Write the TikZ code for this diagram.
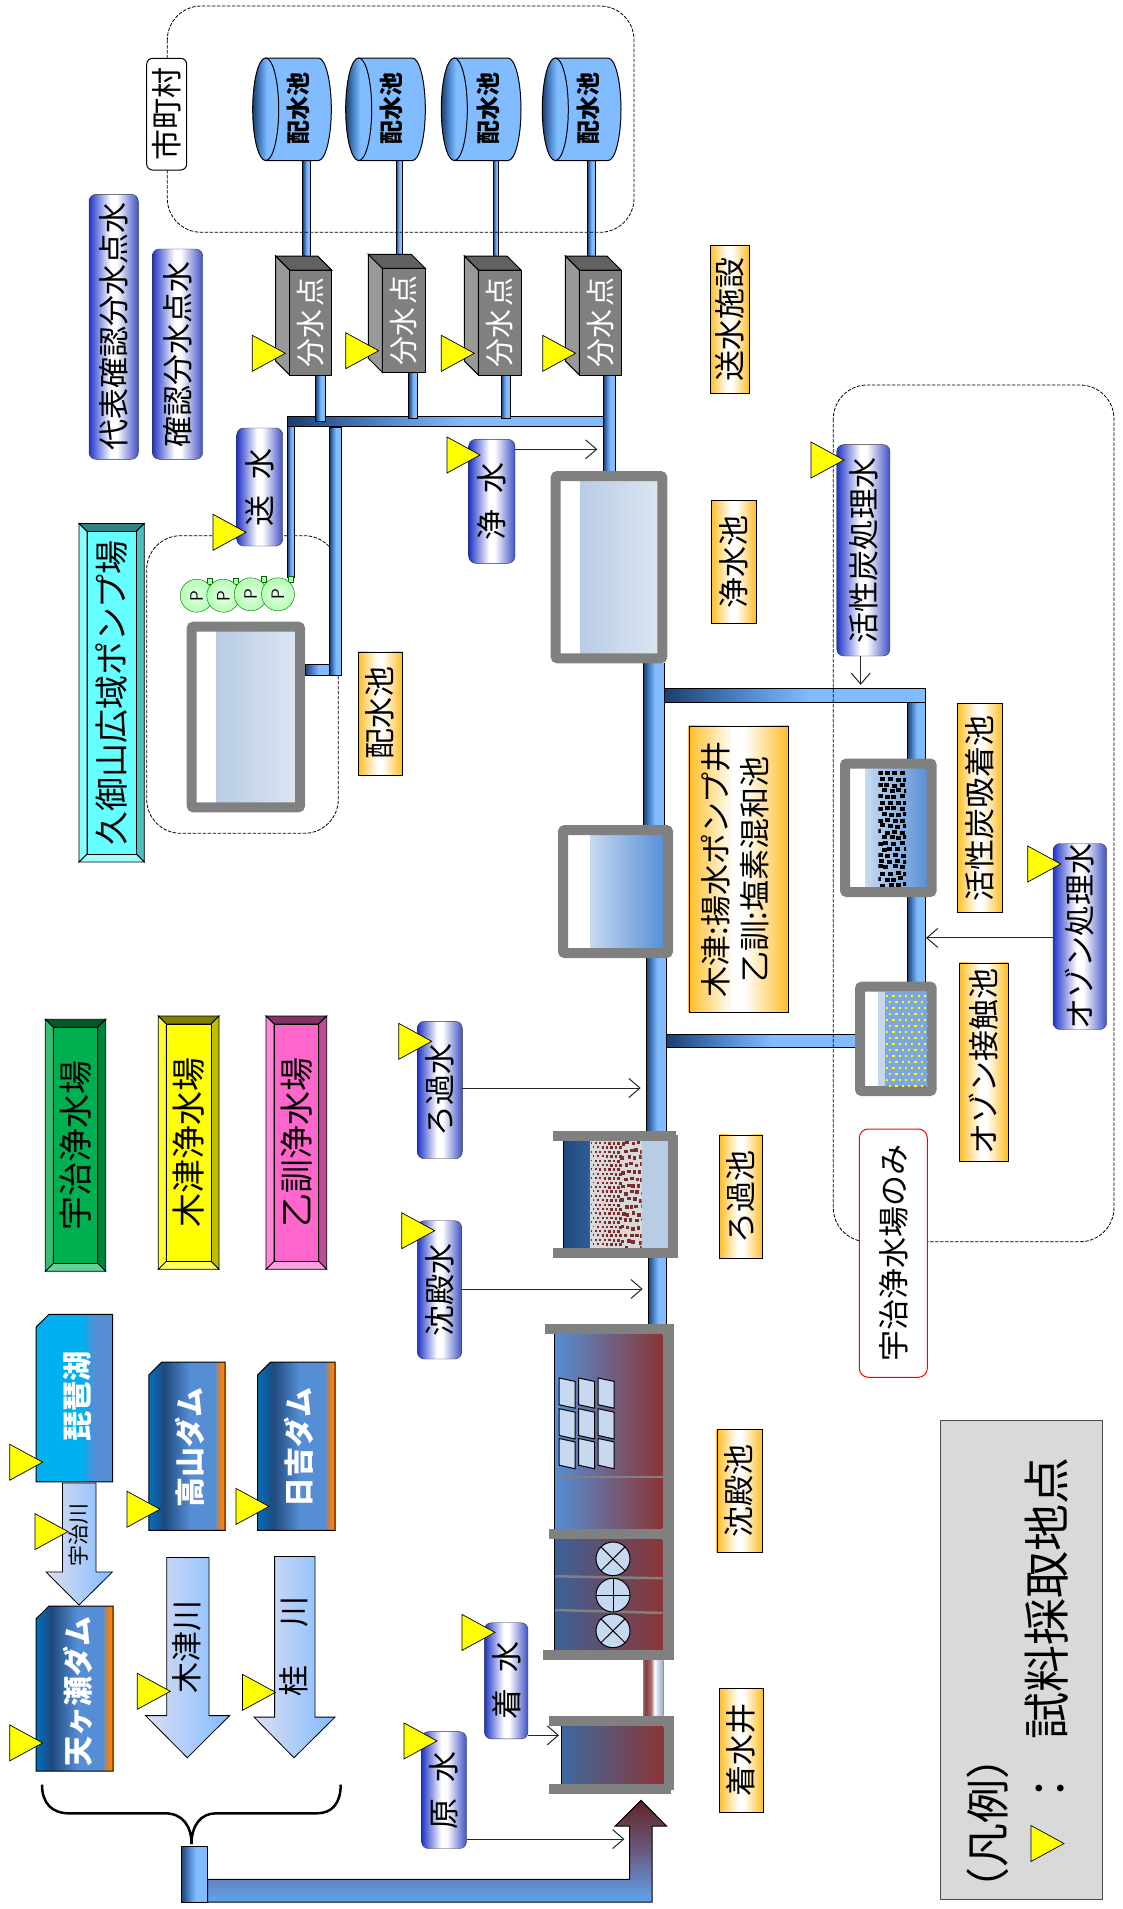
\documentclass[tikz,border=0pt]{standalone}
\usepackage{fontspec}
\setmainfont{Noto Sans CJK JP}
\usetikzlibrary{arrows.meta}
\definecolor{pipeD}{HTML}{1A3E6E}
\definecolor{pipeM}{HTML}{558ED5}
\definecolor{pipeL}{HTML}{80BCFF}
\definecolor{wallg}{HTML}{808080}
\definecolor{pillB}{HTML}{1F35C8}
\definecolor{pillC}{HTML}{3F51C6}
\definecolor{orgE}{HTML}{FFBE28}
\definecolor{damA}{HTML}{0070C0}
\definecolor{damB}{HTML}{1F497D}
\definecolor{damO}{HTML}{FF8000}
\definecolor{biwaC}{HTML}{00B0F0}
\definecolor{bsnA}{HTML}{B8CCE4}
\definecolor{bsnB}{HTML}{DCE6F2}
\definecolor{bsnC}{HTML}{C6D9F1}
\definecolor{darkred}{HTML}{8B3535}
\definecolor{gravel}{HTML}{7B2C2C}
\definecolor{plateU}{HTML}{00B050}
\definecolor{plateK}{HTML}{FFFF00}
\definecolor{plateO}{HTML}{FF66CC}
\definecolor{plateQ}{HTML}{66FFFF}
\definecolor{markY}{HTML}{FFFF00}
\definecolor{riverL}{HTML}{DEDEF2}
\definecolor{sedMid}{HTML}{505C8C}
\definecolor{sedLow}{HTML}{3C6298}
\definecolor{sedLowMid}{HTML}{5A4C70}
\definecolor{wellL}{HTML}{3C6AA0}
\definecolor{wellM}{HTML}{604C70}
\definecolor{inTop}{HTML}{632523}
\definecolor{inMid}{HTML}{6A5A80}
\definecolor{inBot}{HTML}{5FA5F0}
\definecolor{gravelBg}{HTML}{D9D9D9}
\pgfdeclarehorizontalshading{pipeS}{100bp}{color(0bp)=(pipeD); color(25bp)=(pipeD); color(42bp)=(pipeM); color(53bp)=(pipeL); color(100bp)=(pipeL)}
\pgfdeclarehorizontalshading{pillS}{100bp}{color(0bp)=(pillB); color(25bp)=(pillB); color(47bp)=(white); color(53bp)=(white); color(75bp)=(pillC); color(100bp)=(pillC)}
\pgfdeclarehorizontalshading{orgS}{100bp}{color(0bp)=(orgE); color(25bp)=(orgE); color(47bp)=(white); color(53bp)=(white); color(75bp)=(orgE); color(100bp)=(orgE)}
\pgfdeclarehorizontalshading{damS}{100bp}{color(0bp)=(damA); color(25bp)=(damA); color(35bp)=(damB); color(52bp)=(pipeM); color(68bp)=(pipeM); color(73bp)=(damO); color(100bp)=(damO)}
\pgfdeclarehorizontalshading{biwaS}{100bp}{color(0bp)=(biwaC); color(55bp)=(biwaC); color(63bp)=(pipeM); color(100bp)=(pipeM)}
\pgfdeclarehorizontalshading{linkS}{100bp}{color(0bp)=(gray); color(25bp)=(gray); color(31bp)=(darkred); color(45bp)=(darkred!70!white); color(53bp)=(white); color(62bp)=(bsnC); color(72bp)=(bsnA!70!gray); color(75bp)=(gray); color(100bp)=(gray)}
\newcommand\R[1]{\rotatebox{90}{#1}}
\newcommand\Fs[1]{\fontsize{#1}{#1}\selectfont}
\tikzset{
  pill/.style={shade,shading=pillS,draw=black!80,rounded corners=7pt,inner sep=0pt,outer sep=0pt,font=\Fs{31}},
  orglabel/.style={shade,shading=orgS,draw=black,inner sep=0pt,outer sep=0pt,font=\Fs{31}},
  flowarrow/.style={draw=black!85,line width=1pt,-{Straight Barb[length=11pt,width=19pt]}},
  dashedzone/.style={draw=black,line width=.8pt,dash pattern=on 3.5pt off 1.5pt,rounded corners=34pt},
  pipe/.style={shade,shading=pipeS,draw=black,line width=1pt},
  river/.style={shade,left color=riverL,right color=pipeL,draw=black,line width=.8pt},
  wall/.style={fill=wallg},
  marker/.style={fill=markY,draw=black,line width=.7pt},
  pump/.style={circle,draw=green!40!black,inner color=green!10!white,outer color=green!30!white,minimum size=33pt,inner sep=0pt,font=\sffamily\Fs{18}},
  plain/.style={inner sep=0pt,outer sep=0pt},
  zone1/.style={shift={(0,10.375)},yscale=.9917},
}
% name, style, x1,y1,x2,y2, text
\newcommand\Bx[7]{\node[#2,minimum width={(#5-#3)*1pt},minimum height={(#6-#4)*1pt}] (#1) at ({(#3+#5)/2},{(#4+#6)/2}) {#7};}
\newcommand\Tri[2]{\draw[marker] ({#1-33},{#2-18}) -- (#1,#2) -- ({#1-33},{#2+18}) -- cycle;}
\newcommand\Pipe[4]{\path[pipe] (#1,#2) rectangle (#3,#4);}
% basin: x1,y1,x2,y2 outer; split x; left colour; right colour
\newcommand\Basin[7]{%
  \fill[white] (#1,#2) rectangle (#3,#4);
  \path[shade,left color=#6,right color=#7] (#5,{#2+8}) rectangle ({#3-8},{#4-8});
  \draw[wallg,line width=10pt,rounded corners=2pt] ({#1+5},{#2+5}) rectangle ({#3-5},{#4-5});}
% dam: name, shading, x1,y1,x2,y2, y offset
\newcommand\Dam[7]{%
  \path[shade,shading=#2,draw=black,line width=1pt] ({#3+13},#4) -- (#5,#4) -- (#5,#6) -- (#3,#6) -- (#3,{#4+13}) -- cycle;
  \node[plain,text=white,font=\bfseries\Fs{30}] (#1) at ({(#3+#5)/2+3},{(#4+#6)/2+#7}) {\R{#1}};}
% bevel: name,x1,y1,x2,y2,colour,text
\newcommand\Bevel[7]{%
  \draw[fill=#6!50!black,line width=.8pt] (#2,#3) -- (#4,#3) -- ({#4-8},{#3+8}) -- ({#2+8},{#3+8}) -- cycle;
  \draw[fill=#6!75!black,line width=.8pt] (#4,#3) -- (#4,#5) -- ({#4-8},{#5-8}) -- ({#4-8},{#3+8}) -- cycle;
  \draw[fill=#6!60!white,line width=.8pt] (#2,#5) -- (#4,#5) -- ({#4-8},{#5-8}) -- ({#2+8},{#5-8}) -- cycle;
  \draw[fill=#6!80!white,line width=.8pt] (#2,#3) -- (#2,#5) -- ({#2+8},{#5-8}) -- ({#2+8},{#3+8}) -- cycle;
  \node[draw=black,line width=.8pt,fill=#6,inner sep=0pt,outer sep=0pt,minimum width={(#4-#2-16)*1pt},minimum height={(#5-#3-16)*1pt},font=\Fs{34}] (#1) at ({(#2+#4)/2},{(#3+#5)/2}) {\R{#7}};}
% cylinder: name,x1,x2,text x
\newcommand\Cyl[4]{%
  \path[fill=pipeL,draw=black,line width=1pt] ({#2+13},58) -- ({#3-13},58) arc[start angle=-90,end angle=90,x radius=13,y radius=51.3] -- ({#2+13},160.6) -- cycle;
  \path[shade,shading=pipeS,draw=black,line width=1pt] ({#2+13},109.3) ellipse [x radius=13,y radius=51.3];
  \node[plain,font=\bfseries\Fs{24}] (#1) at (#4,108) {\R{配水池}};}
% junction box: name, x1,y1,x2,y2 of front face
\newcommand\Cube[5]{%
  \draw[fill=black!40,line width=1pt] (#2,#3) -- ({#2-14},{#3-14}) -- ({#2-14},{#5-14}) -- (#2,#5) -- cycle;
  \draw[fill=black!62,line width=1pt] (#2,#3) -- ({#2-14},{#3-14}) -- ({#4-14},{#3-14}) -- (#4,#3) -- cycle;
  \node[fill=wallg,draw=black,line width=1pt,text=white,inner sep=0pt,outer sep=0pt,minimum width={(#4-#2)*1pt},minimum height={(#5-#3)*1pt},font=\Fs{29}] (#1) at ({(#2+#4)/2},{(#3+#5)/2}) {\R{分水\hspace{3pt}点}};}
\begin{document}
\begin{tikzpicture}[x=1pt,y=-1pt]
\useasboundingbox (0,0) rectangle (1122,1909);
\fill[white] (0,0) rectangle (1122,1909);

% --- dashed zone behind the pipes (Kumiyama)
\path[dashedzone] (146.7,535.7) rectangle (338.3,833.3);

% --- pipes of the distribution side
\Pipe{302.7}{160}{310.7}{256}
\Pipe{396}{160}{402}{254}
\Pipe{493.3}{160}{498.7}{256}
\Pipe{587.3}{160}{595}{256}
\Pipe{287.3}{426}{294.7}{577}
\Pipe{287.3}{416}{604}{426}
\Pipe{315.7}{375}{325}{421}
\Pipe{408.7}{372}{417.3}{418}
\Pipe{501}{375}{510}{418}
\Pipe{603.3}{375}{615.7}{472}
\Pipe{305}{664.3}{330}{675}
\Pipe{329.3}{427.3}{341.3}{675}

% --- main line
\Pipe{643.3}{660}{664.3}{826}
\Pipe{646}{955}{666.7}{1132}
\Pipe{648}{1257}{666.7}{1326}
\Pipe{664.3}{688.8}{925}{702.2}
\Pipe{907.3}{702}{925}{760}
\Pipe{907.3}{895}{925}{983}
\Pipe{666}{1034}{855}{1047.3}

% --- pumps
\foreach \cx/\cy/\nm in {196.7/595.7/pa,223.3/595.7/pb,250.7/594.3/pc,278/594.3/pd}{
  \draw[fill=green!30!white,draw=green!40!black] ({\cx+10},{\cy-18}) rectangle ({\cx+15},{\cy-12});
  \node[pump] (\nm) at (\cx,\cy) {\R{P}};
}

% --- reservoirs
\Basin{186.7}{621.7}{305}{812.3}{216}{bsnA}{bsnB}
\Basin{550.7}{471}{667.3}{663.3}{580}{bsnA}{bsnB}
\Basin{558}{825}{673}{958}{590}{bsnC}{pipeM}
\Basin{840}{758.5}{936.7}{897}{865.7}{bsnC}{pipeM}
\Basin{855}{981.7}{936.7}{1096}{878}{bsnC}{bsnC}

% activated carbon
\begin{scope}
\clip (878.3,771) rectangle (906,886);
\pgfmathsetseed{11}
\foreach \r in {0,...,19}{
  \foreach \c in {0,...,3}{
    \pgfmathsetmacro\px{877+\c*7.4+mod(\r,2)*3.7+rand*1.6}
    \pgfmathsetmacro\py{771+\r*5.9+rand*1}
    \fill[black] (\px,\py) rectangle ({\px+5},{\py+4});
  }
}
\end{scope}
% ozone dots
\fill[pipeM!65!bsnC] (885,991.7) rectangle (927.3,1086);
\begin{scope}
\clip (885,993) rectangle (927.3,1086);
\foreach \r in {0,...,15}{
  \foreach \c in {0,...,6}{
    \pgfmathsetmacro\px{886+\c*6.3+mod(\r,2)*3.1}
    \pgfmathsetmacro\py{995+\r*6}
    \fill[markY] (\px,\py) rectangle ({\px+2.2},{\py+2.2});
  }
}
\end{scope}

% --- filter basin
\path[shade,left color=damB,right color=damB!70!pipeM] (563.3,1141) rectangle (590,1248.3);
\fill[gravelBg] (590,1141) rectangle (641.7,1248.3);
\fill[bsnA] (641.7,1141) rectangle (668.3,1248.3);
\draw[line width=1pt] (563.3,1141) -- (563.3,1248.3);
\begin{scope}
\clip (590,1141) rectangle (641.7,1248.3);
\pgfmathsetseed{5}
\foreach \r in {0,...,24}{
  \foreach \c in {0,...,6}{
    \pgfmathsetmacro\px{590.5+\c*4.4+mod(\r,2)*2.2}
    \pgfmathsetmacro\py{1142+\r*4.4}
    \pgfmathsetmacro\ss{1.7+\c*.2}
    \fill[gravel] (\px,\py) rectangle ({\px+\ss},{\py+\ss});
  }
}
\foreach \r in {0,...,15}{
  \foreach \c in {0,...,3}{
    \pgfmathsetmacro\px{621+\c*5.6+mod(\r,2)*2.8+rand*1.3}
    \pgfmathsetmacro\py{1142+\r*7+rand*1.3}
    \fill[gravel] (\px,\py) rectangle ({\px+3.6},{\py+3.6});
  }
}
\end{scope}
\fill[wall] (553.3,1130.7) rectangle (676,1141);
\fill[wall] (553.3,1248.3) rectangle (676,1258.3);
\fill[wall] (668.3,1135) rectangle (678.3,1258);

\begin{scope}[zone1]
% --- sedimentation basin
\path[shade,left color=pipeM,middle color=sedMid,right color=darkred] (554.6,1335) rectangle (662.5,1531);
\path[shade,left color=sedLow,middle color=sedLowMid,right color=darkred] (554.6,1541.5) rectangle (662.5,1653.4);
\draw[line width=1pt] (554.6,1335) -- (554.6,1653.4);
\draw[wallg,line width=2.5pt] (554.6,1479) -- (662.5,1479);
\draw[wallg,line width=2.5pt] (555,1579) -- (662.5,1581);
\draw[wallg,line width=2.5pt] (555,1613) -- (662.5,1616);
\foreach \xa in {559,578.5,598}{
  \foreach \ya in {1379,1410,1440}{
    \draw[fill=bsnC,line width=1pt] (\xa,\ya) -- ({\xa+16},{\ya+3.5}) -- ({\xa+16},{\ya+30.5}) -- (\xa,{\ya+27}) -- cycle;
  }
}
\foreach \ym/\ang in {1561.4/45,1598/0,1634/45}{
  \draw[fill=bsnC,line width=1pt] (613,\ym) circle (17);
  \draw[line width=1pt,rotate around={\ang:(613,\ym)}] (596,\ym) -- (630,\ym) (613,{\ym-17}) -- (613,{\ym+17});
}
\fill[wall] (545,1325) rectangle (673.6,1335);
\fill[wall] (548.7,1531) rectangle (673.6,1541.5);
\fill[wall] (543,1653.4) rectangle (673.6,1663.6);
\fill[wall] (662.5,1325) rectangle (673.6,1663.6);

% --- link pipe and receiving well
\path[shade,shading=linkS] (643,1663.6) rectangle (663.5,1719.5);
\path[shade,left color=wellL,middle color=wellM,right color=darkred] (561,1730) rectangle (663.5,1788.6);
\draw[line width=1pt] (561,1730) -- (561,1788.6);
\fill[wall] (548.7,1719.5) rectangle (673.6,1730);
\fill[wall] (548.7,1788.6) rectangle (670.5,1798.7);
\fill[wall] (663.5,1719.5) rectangle (673.6,1795);

% --- big inflow arrow
\path[shade,top color=inTop,bottom color=inBot,middle color=inMid,draw=black,line width=1pt] (207.5,1884.7) -- (629.5,1884.7) -- (629.5,1831) -- (615,1831) -- (641,1805) -- (666.7,1831) -- (652,1831) -- (652,1907.6) -- (207.5,1907.6) -- cycle;
\path[pipe] (181,1851.7) rectangle (207.5,1907.6);
\draw[line width=2.5pt] (42,1789) .. controls (42,1808) and (52,1818) .. (69,1818) -- (165,1818) .. controls (182,1818) and (191.5,1830) .. (191.5,1849) .. controls (191.5,1830) and (201,1818) .. (216,1818) -- (317,1818) .. controls (332,1818) and (340.7,1808) .. (340.7,1789);

% --- rivers and dams
\Dam{琵琶湖}{biwaS}{36}{1314.8}{112.5}{1483.9}{-2}
\Dam{高山ダム}{damS}{148.8}{1363}{225}{1532.6}{1}
\Dam{日吉ダム}{damS}{257.6}{1363}{335}{1532.6}{1}
\Dam{天ヶ瀬ダム}{damS}{36}{1609}{113}{1775.4}{3}
\path[river] (62.4,1485) -- (96,1485) -- (96,1574.6) -- (112.5,1574.6) -- (79,1608) -- (46,1574.6) -- (62.4,1574.6) -- cycle;
\path[river] (166.7,1560) -- (209,1560) -- (209,1719.5) -- (229.6,1719.5) -- (187.3,1762) -- (145.5,1719.5) -- (166.7,1719.5) -- cycle;
\path[river] (274.6,1559) -- (315,1559) -- (315,1721) -- (335,1721) -- (294,1762) -- (254,1721) -- (274.6,1721) -- cycle;
\node[plain,font=\Fs{21}] (ujigawa) at (79,1537) {\R{宇治川}};
\node[plain,font=\Fs{31}] (kizugawa) at (187.3,1650) {\R{木津川}};
\node[plain,font=\Fs{31}] (katsura) at (294,1650) {\R{桂\hspace{38pt}川}};
\end{scope}

% --- cylinders and junction boxes
\Cyl{cylA}{252.7}{331.3}{298.3}
\Cyl{cylB}{345.7}{425.3}{391.7}
\Cyl{cylC}{441.3}{521}{488.3}
\Cyl{cylD}{542.3}{621}{588.3}
\Cube{cubeA}{289.7}{270}{331.7}{375}
\Cube{cubeB}{382.3}{268.3}{425.3}{372.3}
\Cube{cubeC}{478.3}{270}{521}{375}
\Cube{cubeD}{579.3}{270}{621}{375}

% --- dashed zones over the pipes
\path[dashedzone] (167.3,6) rectangle (634,232.3);
\path[dashedzone] (833.3,385) rectangle (1114,1241.7);

% --- plant name plates
\Bevel{ujiP}{45.3}{1019.3}{105.7}{1271.3}{plateU}{宇治浄水場}
\Bevel{kizuP}{158.3}{1016}{219}{1269.3}{plateK}{木津浄水場}
\Bevel{otoP}{266}{1016}{326.7}{1269.3}{plateO}{乙訓浄水場}
\Bevel{kumiP}{79}{523.5}{144.3}{862}{plateQ}{久御山広域ポンプ場}

% --- sampling labels
\Bx{genP}{pill}{421.5}{1731.6}{466.5}{1848.5}{\R{原\hspace{16pt}水}}
\Bx{chakuP}{pill}{484.4}{1622.7}{528}{1738.9}{\R{着\hspace{16pt}水}}
\Bx{chinP}{pill}{417.3}{1220.7}{461.7}{1359}{\R{沈殿水}}
\Bx{roP}{pill}{417.3}{1021.3}{462.3}{1158.7}{\R{ろ過水}}
\Bx{joP}{pill}{468.7}{439.3}{515}{563.3}{\R{浄\hspace{16pt}水}}
\Bx{soP}{pill}{236.7}{428}{282.7}{546}{\R{送\hspace{16pt}水}}
\Bx{kakuP}{pill}{152.3}{249}{202.7}{459.3}{\R{確認分水点水}}
\Bx{daiP}{pill}{89}{194.3}{138.3}{459.3}{\R{代表確認分水点水}}
\Bx{katsuP}{pill}{836.7}{444.6}{890}{656}{\R{活性炭処理水}}
\Bx{ozoP}{pill}{1053}{844}{1106.7}{1029}{\R{オゾン処理水}}

% --- named arrow targets
\coordinate (genT) at (624.4,1839.1);
\coordinate (chakuT) at (559,1735.3);
\coordinate (chinT) at (642.7,1289);
\coordinate (roT) at (640.7,1088);
\coordinate (joT) at (597.3,449.3);
\coordinate (katsuT) at (860.7,684.8);
\coordinate (ozoT) at (926,937.9);
\draw[flowarrow] (genP.east |- genT) -- (genT);
\draw[flowarrow] (chakuP.east |- chakuT) -- (chakuT);
\draw[flowarrow] (chinP.east |- chinT) -- (chinT);
\draw[flowarrow] (roP.east |- roT) -- (roT);
\draw[flowarrow] (joP.east |- joT) -- (joT);
\draw[flowarrow] (katsuP.south -| katsuT) -- (katsuT);
\draw[flowarrow] (ozoP.west |- ozoT) -- (ozoT);

% --- orange captions
\Bx{capSo}{orglabel}{710}{245}{749}{393}{\R{送水施設}}
\Bx{capJo}{orglabel}{711.3}{500.4}{755.7}{623}{\R{浄水池}}
\Bx{capHai}{orglabel}{358.3}{651.7}{401.7}{775}{\R{配水池}}
\Bx{capMix}{orglabel}{688.7}{725.9}{788}{1012.5}{\R{\begin{tabular}{@{}c@{}}木津:揚水ポンプ井\\[3pt]乙訓:塩素混和池\end{tabular}}}
\Bx{capKa}{orglabel}{957.3}{703.6}{1001.7}{912.5}{\R{活性炭吸着池}}
\Bx{capOz}{orglabel}{959.3}{962.7}{1007.7}{1161}{\R{オゾン接触池}}
\Bx{capRo}{orglabel}{719.3}{1134.7}{762.3}{1258.3}{\R{ろ過池}}
\Bx{capChin}{orglabel}{716.7}{1429}{761.7}{1552}{\R{沈殿池}}
\Bx{capChaku}{orglabel}{719}{1688}{762.7}{1812}{\R{着水井}}

% --- white labels
\Bx{shi}{fill=white,draw=black,line width=1pt,rounded corners=6pt,inner sep=0pt,font=\Fs{31}}{146.7}{58.3}{186.7}{170}{\R{市町村}}
\Bx{ujiOnly}{fill=white,draw=red,line width=1pt,rounded corners=9pt,inner sep=0pt,font=\Fs{31}}{859.3}{1129}{927.3}{1377.3}{\R{宇治浄水場のみ}}

% --- legend
\Bx{legend}{fill=black!15,draw=black!70,line width=1pt}{940}{1420}{1102.7}{1899.6}{}
\node[plain,font=\Fs{44}] (hanrei) at (988,1823) {\R{（凡例）}};
\node[plain,font=\Fs{44}] (colon) at (1051.7,1788) {\R{：}};
\node[plain,font=\Fs{47}] (shiryo) at (1046.7,1598.8) {\R{試料採取地点}};

% --- sampling markers
\foreach \tx/\ty in {42.7/1462.2,68/1531.6,160/1509.2,269/1506.4,42.7/1742.9,170.3/1691.3,275.5/1692.3,437/1740.9,495/1632.4,434.7/1230.7,431.7/1041.3,285.3/353.3,378.7/350.7,474.3/353.3,575.7/353.3,480/455,246/532.3,844/460,1060.7/864,1064/1843.5}{
  \Tri{\tx}{\ty}
}
\end{tikzpicture}
\end{document}
